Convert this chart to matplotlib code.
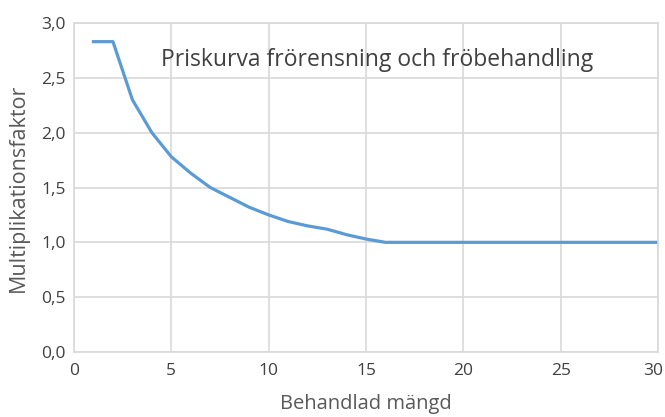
import matplotlib
matplotlib.use("Agg")
import matplotlib.pyplot as plt
import matplotlib.transforms as mtransforms
from matplotlib.ticker import FuncFormatter

x_vals = list(range(1, 31))
y_vals = [2.83, 2.83, 2.30, 2.00, 1.78, 1.63, 1.50, 1.41, 1.32, 1.25,
          1.19, 1.15, 1.12, 1.07, 1.03, 1.00, 1.00, 1.00, 1.00, 1.00,
          1.00, 1.00, 1.00, 1.00, 1.00, 1.00, 1.00, 1.00, 1.00, 1.00]
x_ticks = [0, 5, 10, 15, 20, 25, 30]
y_ticks = [0.0, 0.5, 1.0, 1.5, 2.0, 2.5, 3.0]
title = "Priskurva frörensning och fröbehandling"

FAM = ["Open Sans", "DejaVu Sans"]

fig = plt.figure(figsize=(6.65, 4.17), dpi=100)
ax = fig.add_axes([0.1113, 0.1559, 0.8782, 0.7889])
ax.plot(x_vals, y_vals, color="#5B9BD5", lw=2.3, solid_joinstyle="round")
ax.set_xlim(0, 30)
ax.set_ylim(0, 3.0)
ax.set_xticks(x_ticks)
ax.set_yticks(y_ticks)
ax.yaxis.set_major_formatter(FuncFormatter(lambda v, p: f"{v:.1f}".replace(".", ",")))
ax.grid(True, color="#D9D9D9", lw=1.2)
ax.set_axisbelow(True)
for s in ax.spines.values():
    s.set_color("#D9D9D9")
    s.set_linewidth(1.2)
ax.tick_params(length=0, labelsize=12.5, colors="#404040")
ax.tick_params(axis="x", pad=8)
ax.tick_params(axis="y", pad=6)
for lab in ax.get_xticklabels() + ax.get_yticklabels():
    lab.set_family(FAM)
# nudge the last x tick label so it stays inside the figure
last = ax.get_xticklabels()[-1]
last.set_transform(last.get_transform() + mtransforms.ScaledTranslation(-5/100, 0, fig.dpi_scale_trans))

ax.set_xlabel("Behandlad mängd", fontsize=14.5, color="#595959", family=FAM, labelpad=11)
ax.set_ylabel("Multiplikationsfaktor", fontsize=15.5, color="#595959", family=FAM, labelpad=9)
ax.text(15.56, 2.66, title, ha="center", va="center", fontsize=16.5, color="#404040", family=FAM)
fig.savefig("out.png", dpi=100)
